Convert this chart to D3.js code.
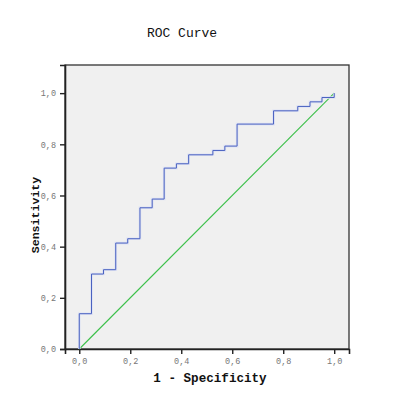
<!DOCTYPE html>
<html>
<head>
<meta charset="utf-8">
<script src="https://cdn.jsdelivr.net/npm/d3@7"></script>
<style>
  body { margin: 0; background: #fff; }
</style>
</head>
<body>
<div id="plot"></div>
<script>
// ROC step points
var fpr  = [0, 0, 0.048, 0.048, 0.095, 0.095, 0.143, 0.143, 0.190, 0.190, 0.238, 0.238, 0.286, 0.286,
            0.333, 0.333, 0.381, 0.381, 0.429, 0.429, 0.524, 0.524, 0.571, 0.571, 0.619, 0.619,
            0.762, 0.762, 0.857, 0.857, 0.905, 0.905, 0.952, 0.952, 1, 1];
var sens = [0, 0.138, 0.138, 0.293, 0.293, 0.310, 0.310, 0.414, 0.414, 0.431, 0.431, 0.552, 0.552, 0.586,
            0.586, 0.707, 0.707, 0.724, 0.724, 0.759, 0.759, 0.776, 0.776, 0.793, 0.793, 0.879,
            0.879, 0.931, 0.931, 0.948, 0.948, 0.966, 0.966, 0.983, 0.983, 1];
var refLine = [[0, 0], [1, 1]];
var ticks = [0, 0.2, 0.4, 0.6, 0.8, 1.0];

var margin = {top: 65, right: 56, bottom: 46, left: 65},
    width = 405 - margin.left - margin.right,
    height = 395 - margin.top - margin.bottom;

var svg = d3.select("div#plot")
  .append("svg")
    .attr("width", 405)
    .attr("height", 395)
    .style("font-family", "'Liberation Mono', 'DejaVu Sans Mono', monospace");

var g = svg.append("g")
    .attr("transform", "translate(" + margin.left + "," + margin.top + ")");

var x = d3.scaleLinear().domain([-0.056, 1.058]).range([0, width]);
var y = d3.scaleLinear().domain([0, 1.11]).range([height, 0]);

// plot background + frame
g.append("rect")
  .attr("width", width)
  .attr("height", height)
  .attr("fill", "#f0f0f0")
  .attr("stroke", "#333")
  .attr("stroke-width", 1.3);

var fmt = function(d) { return d3.format(".1f")(d).replace(".", ","); };

var xAxis = g.append("g")
  .attr("transform", "translate(0," + height + ")")
  .call(d3.axisBottom(x).tickValues(ticks).tickSize(5).tickPadding(4).tickFormat(fmt));
var yAxis = g.append("g")
  .call(d3.axisLeft(y).tickValues(ticks).tickSize(5).tickPadding(4).tickFormat(fmt));

[xAxis, yAxis].forEach(function(a) {
  a.select(".domain").attr("stroke", "#222").attr("stroke-width", 1.6);
  a.selectAll(".tick line").attr("stroke", "#222").attr("stroke-width", 1.4);
  a.selectAll(".tick text")
    .attr("fill", "#777")
    .style("font-family", "'Liberation Mono', monospace")
    .style("font-size", "8.5px");
});

// diagonal reference line
g.append("path")
  .datum(refLine)
  .attr("fill", "none")
  .attr("stroke", "#3cc04a")
  .attr("stroke-width", 1.1)
  .attr("d", d3.line()
    .x(function(d) { return x(d[0]); })
    .y(function(d) { return y(d[1]); }));

// ROC curve
var pts = fpr.map(function(f, i) { return [f, sens[i]]; });
var rocLine = d3.line()
  .x(function(d) { return x(d[0]); })
  .y(function(d) { return y(d[1]); });

g.append("path")
  .datum(pts)
  .attr("fill", "none")
  .attr("stroke", "#dde1f3")
  .attr("stroke-width", 2.6)
  .attr("d", rocLine);
g.append("path")
  .datum(pts)
  .attr("fill", "none")
  .attr("stroke", "#4a62c0")
  .attr("stroke-width", 1)
  .attr("d", rocLine);

// title and axis labels
svg.append("text")
  .attr("x", 182)
  .attr("y", 37)
  .attr("text-anchor", "middle")
  .style("font-size", "13px")
  .attr("fill", "#111")
  .text("ROC Curve");

svg.append("text")
  .attr("x", 210)
  .attr("y", 382)
  .attr("text-anchor", "middle")
  .style("font-size", "12.6px")
  .style("font-weight", "bold")
  .attr("fill", "#111")
  .text("1 - Specificity");

svg.append("text")
  .attr("transform", "translate(39,215) rotate(-90)")
  .attr("text-anchor", "middle")
  .style("font-size", "11.6px")
  .style("font-weight", "bold")
  .attr("fill", "#111")
  .text("Sensitivity");
</script>
</body>
</html>
